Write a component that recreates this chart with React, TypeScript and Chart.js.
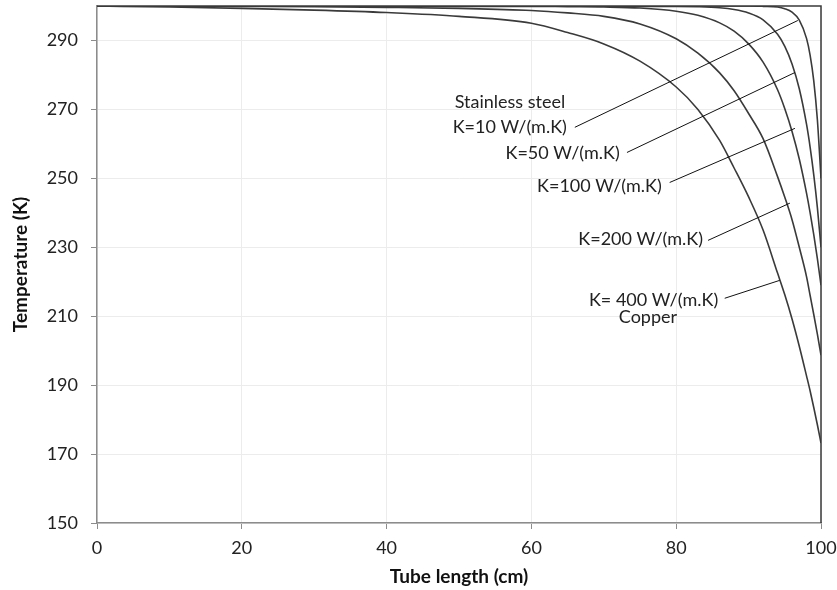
import React, { useEffect, useRef } from "react";
import { Chart, registerables } from "chart.js";

Chart.register(...registerables);

// Tube length (cm) sample positions
const tubeLength = [0, 10, 20, 30, 40, 50, 60, 65, 70, 75, 80, 83, 86, 88, 90, 92, 94, 95, 96, 97, 98, 98.5, 99, 99.5, 100];

// Temperature (K)
const tempK10 = [300, 300, 300, 300, 300, 300, 300, 300, 300, 300, 300, 300, 300, 300, 300, 299.9, 299.7, 299.2, 298.2, 295.9, 290.6, 285.7, 278.3, 267, 250];
const tempK50 = [300, 300, 300, 300, 300, 300, 300, 300, 300, 299.9, 299.9, 299.8, 299.5, 299, 298, 296, 291.8, 288.3, 283.2, 276, 265.7, 259, 251, 241.5, 230];
const tempK100 = [300, 300, 300, 300, 300, 299.9, 299.9, 299.8, 299.7, 299.4, 298.5, 297.3, 295.1, 292.7, 289, 283.7, 275.7, 270.2, 263.6, 255.6, 245.7, 240, 233.7, 226.7, 219];
const tempK200 = [300, 300, 299.9, 299.8, 299.6, 299.3, 298.7, 298, 297, 294.8, 290.5, 286.3, 280.6, 275.4, 268.8, 261.5, 250.5, 244.5, 238, 230, 221.5, 216, 210.5, 204.8, 198.7];
const tempK400 = [300, 299.7, 299.3, 298.8, 298.1, 297, 295, 292.3, 289, 284, 276.5, 270, 261, 253, 244.6, 235, 222.5, 216.2, 209.2, 201.3, 192.7, 188.3, 183.5, 178.5, 173.2];

const seriesNames = ["K=10", "K=50", "K=100", "K=200", "K=400"];
const seriesTemps = [tempK10, tempK50, tempK100, tempK200, tempK400];

// Axis ranges / ticks
const xMin = 0;
const xMax = 100;
const xTickValues = [0, 20, 40, 60, 80, 100];
const yMin = 150;
const yMax = 300;
const yTickValues = [150, 170, 190, 210, 230, 250, 270, 290];

// Annotation texts with anchor (data coords)
const labelTexts = ["Stainless steel", "K=10 W/(m.K)", "K=50 W/(m.K)", "K=100 W/(m.K)", "K=200 W/(m.K)", "K= 400 W/(m.K)", "Copper"];
const labelX = [49.4, 64.9, 72.2, 78.0, 83.7, 85.8, 76.1];
const labelY = [272.0, 264.8, 257.2, 247.7, 232.3, 214.6, 209.7];
const labelAlign = ["left", "right", "right", "right", "right", "right", "center"];

// Leader lines (data coords)
const leaderX1 = [66.0, 73.2, 79.1, 84.4, 86.7];
const leaderY1 = [264.8, 257.5, 248.8, 232.0, 215.2];
const leaderX2 = [96.8, 96.4, 96.4, 95.7, 94.3];
const leaderY2 = [295.8, 280.7, 264.5, 242.8, 220.4];

const FONT = "Lato, 'Open Sans', sans-serif";

const annotPlugin = {
  id: "annotPlugin",
  afterDatasetsDraw(chart: any) {
    const { ctx, chartArea, scales } = chart;
    const xs = scales.x;
    const ys = scales.y;
    ctx.save();
    // top and right frame
    ctx.strokeStyle = "#3a3a3a";
    ctx.lineWidth = 1.5;
    ctx.beginPath();
    ctx.moveTo(chartArea.left, chartArea.top);
    ctx.lineTo(chartArea.right, chartArea.top);
    ctx.lineTo(chartArea.right, chartArea.bottom);
    ctx.stroke();
    // leader lines
    ctx.strokeStyle = "#111";
    ctx.lineWidth = 1;
    for (let i = 0; i < leaderX1.length; i++) {
      ctx.beginPath();
      ctx.moveTo(xs.getPixelForValue(leaderX1[i]), ys.getPixelForValue(leaderY1[i]));
      ctx.lineTo(xs.getPixelForValue(leaderX2[i]), ys.getPixelForValue(leaderY2[i]));
      ctx.stroke();
    }
    // labels
    ctx.fillStyle = "#222";
    ctx.font = `18px ${FONT}`;
    ctx.textBaseline = "middle";
    for (let i = 0; i < labelTexts.length; i++) {
      ctx.textAlign = labelAlign[i] as CanvasTextAlign;
      ctx.fillText(labelTexts[i], xs.getPixelForValue(labelX[i]), ys.getPixelForValue(labelY[i]));
    }
    ctx.restore();
  },
};

export default function App() {
  const canvasRef = useRef<HTMLCanvasElement | null>(null);

  useEffect(() => {
    document.body.style.margin = "0";
    const canvas = canvasRef.current;
    if (!canvas) return;
    const datasets = seriesNames.map((name, i) => ({
      label: name,
      data: tubeLength.map((x, j) => ({ x, y: seriesTemps[i][j] })),
      borderColor: "#3a3a3a",
      borderWidth: 1.6,
      pointRadius: 0,
      fill: false,
      cubicInterpolationMode: "monotone" as const,
    }));
    const chart = new Chart(canvas, {
      type: "line",
      data: { datasets },
      plugins: [annotPlugin],
      options: {
        animation: false,
        responsive: false,
        maintainAspectRatio: false,
        layout: { padding: { top: 6, right: 16, left: 0, bottom: 0 } },
        plugins: { legend: { display: false }, tooltip: { enabled: false } },
        scales: {
          x: {
            type: "linear",
            min: xMin,
            max: xMax,
            afterBuildTicks: (s: any) => { s.ticks = xTickValues.map((v) => ({ value: v })); },
            afterFit: (s: any) => { s.height = 67; s.paddingLeft = 0; s.paddingRight = 0; },
            ticks: { color: "#222", font: { family: FONT, size: 18 }, padding: 8, maxRotation: 0 },
            grid: { color: "#ececec", tickColor: "#8c8c8c", tickLength: 6, lineWidth: 1 },
            border: { color: "#8c8c8c", width: 1.5 },
            title: { display: true, text: "Tube length (cm)", color: "#111", font: { family: FONT, size: 19, weight: "bold" }, padding: { top: 0, bottom: 2 } },
          },
          y: {
            type: "linear",
            min: yMin,
            max: yMax,
            afterBuildTicks: (s: any) => { s.ticks = yTickValues.map((v) => ({ value: v })); },
            afterFit: (s: any) => { s.width = 97; s.paddingTop = 0; s.paddingBottom = 0; },
            ticks: { color: "#222", font: { family: FONT, size: 18 }, padding: 13 },
            grid: { color: "#ececec", tickColor: "#8c8c8c", tickLength: 6, lineWidth: 1 },
            border: { color: "#8c8c8c", width: 1.5 },
            title: { display: true, text: "Temperature (K)", color: "#111", font: { family: FONT, size: 19, weight: "bold" }, padding: { top: 9, bottom: 0 } },
          },
        },
      },
    });
    return () => chart.destroy();
  }, []);

  return <canvas ref={canvasRef} width={837} height={590} style={{ display: "block" }} />;
}
